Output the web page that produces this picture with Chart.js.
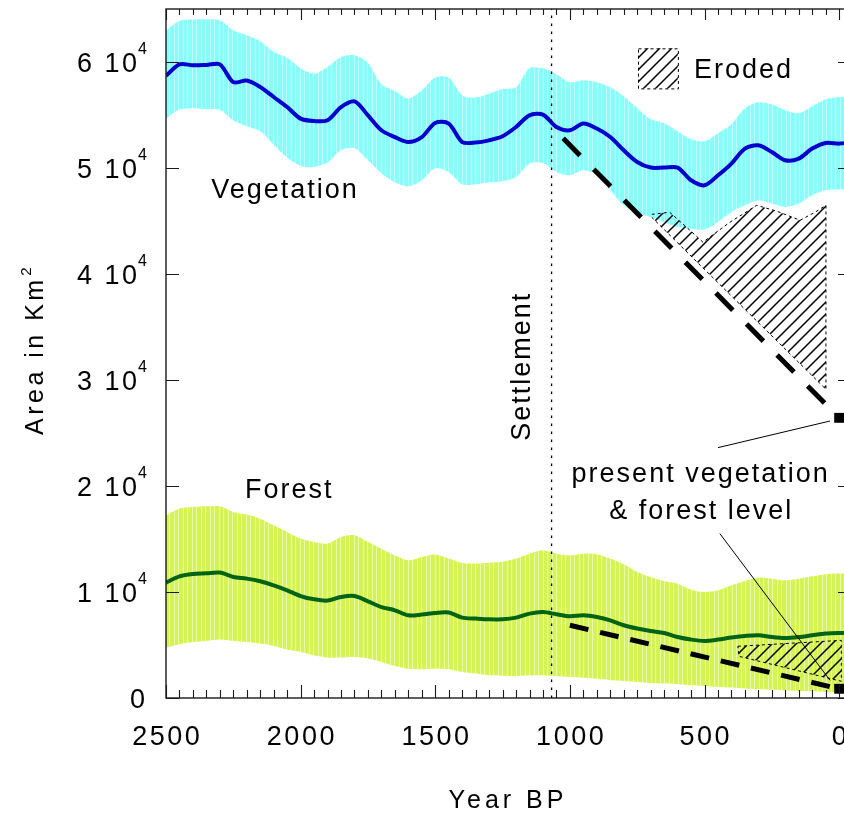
<!DOCTYPE html>
<html>
<head>
<meta charset="utf-8">
<title>Vegetation and forest area</title>
<script src="https://cdn.jsdelivr.net/npm/chart.js@4.4.1/dist/chart.umd.min.js"></script>
<style>
  html, body { margin: 0; padding: 0; background: #fff; overflow: hidden; }
  #wrap { width: 860px; height: 814px; }
</style>
</head>
<body>
<div id="wrap"><canvas id="chart" width="860" height="814"></canvas></div>
<script>
// Years BP (x axis runs from 2500 down to 0)
const years = [2500, 2450, 2400, 2350, 2300, 2250, 2200, 2150, 2100, 2050,
  2000, 1950, 1900, 1850, 1800, 1750, 1700, 1650, 1600, 1550,
  1500, 1450, 1400, 1350, 1300, 1250, 1200, 1150, 1100, 1050,
  1000, 950, 900, 850, 800, 750, 700, 650, 600, 550,
  500, 450, 400, 350, 300, 250, 200, 150, 100, 50,
  0, -44];

// Vegetation area, km2
const vegMean = [58700, 59780, 59690, 59720, 59780, 58100, 58250, 57640, 56700, 55750,
  54660, 54430, 54500, 55750, 56290, 54970, 53560, 52920, 52450, 52920,
  54250, 54190, 52450, 52400, 52610, 53000, 53870, 54970, 55040, 53870,
  53560, 54190, 53720, 52920, 51670, 50570, 50040, 50040, 50040, 48840,
  48370, 49310, 50420, 51830, 52140, 51510, 50730, 50890, 51830, 52360,
  52300, 52450];
const vegUpper = [62970, 63870, 64000, 64030, 63930, 62990, 62520, 61950, 60950, 60400,
  59400, 58900, 59530, 60470, 60630, 59910, 57900, 57270, 56550, 57330,
  58530, 58530, 56860, 56640, 57020, 57450, 57610, 59400, 59400, 58840,
  58080, 58270, 58080, 57610, 56760, 55630, 54590, 54220, 53460, 52710,
  52520, 53270, 54130, 55630, 56200, 56010, 55440, 55160, 55820, 56480,
  56670, 56760];
const vegLower = [54660, 55510, 55630, 55540, 55500, 54500, 53930, 53460, 52200, 50970,
  50220, 50090, 50540, 51670, 51860, 50730, 49500, 48650, 48270, 48840,
  49970, 49590, 48460, 48460, 48650, 48760, 49150, 50420, 50470, 49620,
  49310, 49780, 49310, 47900, 46480, 45700, 45380, 44900, 44430, 44280,
  44200, 44900, 45850, 46480, 46950, 46640, 46320, 46640, 47420, 47900,
  47960, 48050];

// Forest area, km2
const forMean = [10890, 11480, 11700, 11760, 11830, 11420, 11260, 11010, 10630, 10160,
  9620, 9310, 9190, 9530, 9620, 9120, 8580, 8270, 7800, 7870,
  8020, 8060, 7580, 7490, 7420, 7420, 7580, 7960, 8110, 7900,
  7710, 7800, 7640, 7330, 6860, 6550, 6320, 6130, 5750, 5510,
  5380, 5510, 5700, 5850, 5920, 5750, 5660, 5750, 5920, 6080,
  6130, 6130];
const forUpper = [17200, 17870, 18020, 18080, 18080, 17550, 17300, 16920, 16290, 15660,
  15040, 14720, 14570, 15190, 15350, 14720, 14090, 13460, 12990, 13300,
  13530, 13150, 12740, 12680, 12770, 12860, 13150, 13620, 13930, 13620,
  13460, 13620, 13560, 13150, 12610, 11890, 11420, 11040, 10790, 10230,
  10000, 10160, 10630, 11040, 11360, 11260, 11100, 11260, 11480, 11670,
  11740, 11740];
const forLower = [4750, 5070, 5280, 5380, 5510, 5380, 5280, 5130, 4910, 4570,
  4340, 4030, 3810, 3810, 3870, 3720, 3400, 3020, 2770, 2710,
  2770, 2710, 2450, 2300, 2140, 2110, 2050, 2140, 2140, 2050,
  1980, 1920, 1830, 1670, 1600, 1510, 1420, 1360, 1290, 1200,
  1130, 1040, 980, 890, 820, 790, 730, 660, 630, 570,
  570, 560];

// Eroded areas (outline of the hatched regions)
const vegErodedYears = [696, 629, 554, 506, 406, 306, 231, 145, 90, 49, 49, 696];
const vegErodedArea = [45630, 45820, 44120, 43000, 44880, 46480, 45920, 45070, 45820, 46480, 29120, 45350];
const forErodedYears = [376, -8, -8, 372, 376];
const forErodedArea = [4880, 5440, 1580, 3930, 4880];

// Decline since settlement and present level
const vegTrendYears = [1025, 0];
const vegTrendArea = [52800, 26430];
const forTrendYears = [1000, 0];
const forTrendArea = [6860, 870];
const presentYears = [0, 0];
const presentArea = [26430, 870];
const settlementYear = 1068;

// Pointer lines of the "present vegetation & forest level" note
const pointerVegYears = [450, 34];
const pointerVegArea = [23620, 26130];
const pointerForYears = [443, 34];
const pointerForArea = [15510, 1670];

// Axes
const xMajorTicks = [2500, 2000, 1500, 1000, 500, 0];
const yMajorTicks = [0, 1, 2, 3, 4, 5, 6]; // x 10^4

const FONT = '"Liberation Sans", Arial, Helvetica, sans-serif';

function pts(xs, ys) {
  return xs.map((x, i) => ({ x: x, y: ys[i] }));
}

function stripes(base, light) {
  const c = document.createElement('canvas');
  c.width = 9; c.height = 4;
  const g = c.getContext('2d');
  g.fillStyle = base;
  g.fillRect(0, 0, 9, 4);
  g.fillStyle = light;
  g.fillRect(3, 0, 1, 4);
  g.fillRect(7, 0, 1, 4);
  return g.createPattern(c, 'repeat');
}

function hatch() {
  const s = 12;
  const c = document.createElement('canvas');
  c.width = s; c.height = s;
  const g = c.getContext('2d');
  g.strokeStyle = '#000';
  g.lineWidth = 1.5;
  g.beginPath();
  g.moveTo(0, s); g.lineTo(s, 0);
  g.moveTo(-2, 2); g.lineTo(2, -2);
  g.moveTo(s - 2, s + 2); g.lineTo(s + 2, s - 2);
  g.stroke();
  return g.createPattern(c, 'repeat');
}

const cyanFill = stripes('#88fbfb', '#c4ffff');
const yellowFill = stripes('#d6f356', '#ecf9aa');
const hatchFill = hatch();

function drawText(ctx, str, x, y, size, spacing, align) {
  ctx.font = size + 'px ' + FONT;
  ctx.letterSpacing = spacing + 'px';
  ctx.textAlign = 'left';
  ctx.textBaseline = 'alphabetic';
  const w = ctx.measureText(str).width - spacing;
  let x0 = x;
  if (align === 'center') x0 = x - w / 2;
  else if (align === 'right') x0 = x - w;
  ctx.fillText(str, x0, y);
  return w;
}

// frame, inward ticks, tick labels and all the text
const framePlugin = {
  id: 'frame',
  afterDraw(chart) {
    const { ctx, chartArea: a } = chart;
    const xs = chart.scales.x, ys = chart.scales.y;
    ctx.save();
    ctx.strokeStyle = '#1a1a1a';
    ctx.lineWidth = 1.4;
    ctx.strokeRect(a.left, a.top, a.right - a.left, a.bottom - a.top);

    ctx.beginPath();
    for (let yr = 0; yr <= 2500; yr += 50) {
      const px = Math.round(xs.getPixelForValue(yr)) + 0.5;
      const major = yr % 500 === 0;
      ctx.moveTo(px, a.bottom); ctx.lineTo(px, a.bottom - (major ? 13 : 8));
      ctx.moveTo(px, a.top); ctx.lineTo(px, a.top + (major ? 11 : 6));
    }
    yMajorTicks.forEach(v => {
      const py = Math.round(ys.getPixelForValue(v * 1e4)) + 0.5;
      ctx.moveTo(a.left, py); ctx.lineTo(a.left + 13, py);
      ctx.moveTo(a.right, py); ctx.lineTo(a.right - 13, py);
    });
    ctx.lineWidth = 1.1;
    ctx.stroke();

    ctx.fillStyle = '#000';
    xMajorTicks.forEach(yr => {
      drawText(ctx, String(yr), xs.getPixelForValue(yr), a.bottom + 47, 27, 2.5, 'center');
    });
    yMajorTicks.forEach(v => {
      const py = ys.getPixelForValue(v * 1e4);
      if (v === 0) {
        drawText(ctx, '0', 145, py + 10, 27, 2.5, 'right');
        return;
      }
      const supW = drawText(ctx, '4', 147, py - 8, 16, 0, 'right');
      drawText(ctx, v + ' 10', 147 - supW - 1, py + 10, 27, 2.5, 'right');
    });

    // axis titles
    drawText(ctx, 'Year BP', (a.left + 844) / 2 + 1, 808, 25, 4, 'center');
    ctx.save();
    ctx.translate(43, 435);
    ctx.rotate(-Math.PI / 2);
    const w = drawText(ctx, 'Area in Km', 0, 0, 25, 3.5, 'left');
    drawText(ctx, '2', w + 4, -12, 15, 0, 'left');
    ctx.restore();

    // labels inside the plot
    const cap = 27 * 0.36;
    const label = (str, yr, val) =>
      drawText(ctx, str, xs.getPixelForValue(yr), ys.getPixelForValue(val) + cap, 27, 2, 'center');
    label('Vegetation', 2062, 48090);
    label('Forest', 2046, 19780);
    label('present vegetation', 518, 21290);
    label('& forest level', 516, 17800);
    label('Eroded', 359, 59400);

    ctx.save();
    ctx.translate(xs.getPixelForValue(1185) + cap, ys.getPixelForValue(31200));
    ctx.rotate(-Math.PI / 2);
    drawText(ctx, 'Settlement', 0, 0, 27, 2, 'center');
    ctx.restore();

    // legend swatch for the eroded hatch
    const lx0 = xs.getPixelForValue(747), lx1 = xs.getPixelForValue(599);
    const ly0 = ys.getPixelForValue(61290), ly1 = ys.getPixelForValue(57510);
    ctx.fillStyle = hatchFill;
    ctx.fillRect(lx0, ly0, lx1 - lx0, ly1 - ly0);
    ctx.setLineDash([3, 3]);
    ctx.lineWidth = 1;
    ctx.strokeStyle = '#000';
    ctx.strokeRect(lx0 + 0.5, ly0 + 0.5, lx1 - lx0, ly1 - ly0);
    ctx.restore();
  }
};

const plain = { pointRadius: 0, pointHoverRadius: 0 };

new Chart(document.getElementById('chart'), {
  type: 'line',
  data: {
    datasets: [
      { ...plain, data: pts(years, vegUpper), fill: 1, backgroundColor: cyanFill,
        borderColor: 'transparent', borderWidth: 0, tension: 0.3, order: 10 },
      { ...plain, data: pts(years, vegLower), fill: false,
        borderColor: 'transparent', borderWidth: 0, tension: 0.3, order: 10 },
      { ...plain, data: pts(years, forUpper), fill: 3, backgroundColor: yellowFill,
        borderColor: 'transparent', borderWidth: 0, tension: 0.3, order: 10 },
      { ...plain, data: pts(years, forLower), fill: false,
        borderColor: 'transparent', borderWidth: 0, tension: 0.3, order: 10 },
      { ...plain, data: pts(vegErodedYears, vegErodedArea), fill: 'shape', backgroundColor: hatchFill,
        borderColor: '#000', borderWidth: 1, borderDash: [3, 3], tension: 0, order: 8 },
      { ...plain, data: pts(forErodedYears, forErodedArea), fill: 'shape', backgroundColor: hatchFill,
        borderColor: '#000', borderWidth: 1, borderDash: [3, 3], tension: 0, order: 8 },
      { ...plain, data: pts(years, vegMean), fill: false, borderColor: '#0000cc',
        borderWidth: 4, tension: 0.3, order: 5 },
      { ...plain, data: pts(years, forMean), fill: false, borderColor: '#006414',
        borderWidth: 4, tension: 0.3, order: 5 },
      { ...plain, data: [{ x: settlementYear, y: 0 }, { x: settlementYear, y: 65000 }], fill: false,
        borderColor: '#000', borderWidth: 1.3, borderDash: [2.5, 5.5], order: 4 },
      { ...plain, data: pts(vegTrendYears, vegTrendArea), fill: false, borderColor: '#000',
        borderWidth: 5, borderDash: [24, 19.5], order: 3 },
      { ...plain, data: pts(forTrendYears, forTrendArea), fill: false, borderColor: '#000',
        borderWidth: 5, borderDash: [19, 12], order: 3 },
      { ...plain, data: pts(pointerVegYears, pointerVegArea), fill: false, borderColor: '#000',
        borderWidth: 1, order: 2 },
      { ...plain, data: pts(pointerForYears, pointerForArea), fill: false, borderColor: '#000',
        borderWidth: 1, order: 2 },
      { data: pts(presentYears, presentArea), showLine: false, pointStyle: 'rect',
        pointRadius: 7, pointBackgroundColor: '#000', pointBorderColor: '#000', pointBorderWidth: 0,
        order: 1 }
    ]
  },
  options: {
    responsive: false,
    animation: false,
    devicePixelRatio: 1,
    events: [],
    layout: { padding: { left: 166, top: 9, right: 9, bottom: 116 } },
    plugins: { legend: { display: false }, tooltip: { enabled: false } },
    scales: {
      x: { type: 'linear', reverse: true, min: -44, max: 2500, display: false },
      y: { type: 'linear', min: 0, max: 65000, display: false }
    }
  },
  plugins: [framePlugin]
});
</script>
</body>
</html>
